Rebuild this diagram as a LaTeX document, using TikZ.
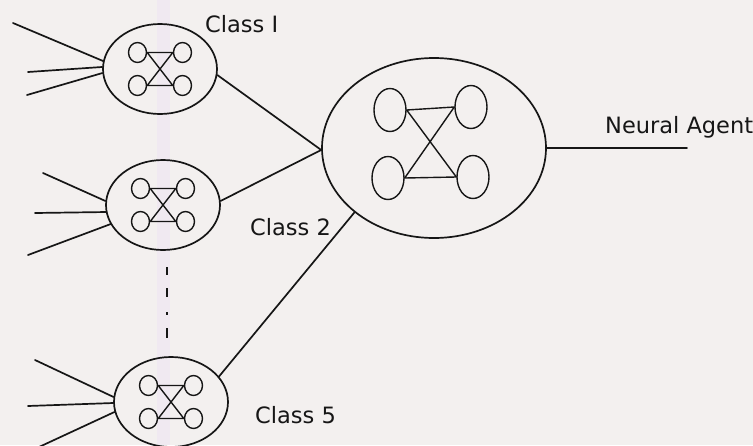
\documentclass[tikz,border=0pt]{standalone}
\usepackage{fontspec}
\setmainfont{DejaVu Sans}
\usetikzlibrary{shapes.geometric}
\definecolor{paper}{HTML}{F3F0EF}
\definecolor{band}{HTML}{F0E9F1}
\definecolor{ink}{HTML}{161616}
\begin{document}
\begin{tikzpicture}[x=1pt,y=-1pt,
  wire/.style={draw=ink,line width=1.7pt,line cap=round},
  cluster/.style={ellipse,draw=ink,line width=1.7pt,inner sep=0pt},
  neuron/.style={ellipse,draw=ink,line width=1.4pt,inner sep=0pt,
    minimum width=18pt,minimum height=20pt},
  bigneuron/.style={ellipse,draw=ink,line width=1.4pt,inner sep=0pt,
    minimum width=32pt,minimum height=43pt},
  tag/.style={anchor=base west,inner sep=0pt,text=ink,
    font=\fontsize{22.5}{27}\selectfont},
  % a small class network: four neurons in an enclosing ellipse
  pics/subnet/.style={code={
    \node[cluster,minimum width=114pt,minimum height=90pt] (-shell) at (0,0) {};
    \node[neuron] (-tl) at (-22.5,-16.5) {};
    \node[neuron] (-tr) at (22.5,-16.5) {};
    \node[neuron] (-bl) at (-22.5,16.5) {};
    \node[neuron] (-br) at (22.5,16.5) {};
    \draw[wire,line width=1.4pt] (-tl.east) -- (-tr.west)
      (-bl.east) -- (-br.west)
      (-tl.east) -- (-br.west)
      (-tr.west) -- (-bl.east);
  }}]

% paper and the faint scanner stripe
\fill[paper] (0,0) rectangle (753,445);
\fill[band] (157,0) rectangle (170,445);
\useasboundingbox (0,0) rectangle (753,445);
\clip (0,0) rectangle (753,445);

% class networks
\pic (s1) at (160,69) {subnet};
\pic (s2) at (163,205) {subnet};
\pic (s3) at (171,402) {subnet};

% the agent network
\node[cluster,minimum width=224pt,minimum height=180pt] (hub) at (434,148) {};
\node[bigneuron] (htl) at (390,110) {};
\node[bigneuron] (htr) at (471,107) {};
\node[bigneuron] (hbl) at (388,178) {};
\node[bigneuron] (hbr) at (473,177) {};
\draw[wire,line width=1.4pt] (htl.east) -- (htr.west)
  (hbl.east) -- (hbr.west)
  (htl.east) -- (hbr.west)
  (htr.west) -- (hbl.east);

% input ends
\coordinate (a1) at (13,23);
\coordinate (a2) at (28,72);
\coordinate (a3) at (27,95);
\coordinate (b1) at (43,173);
\coordinate (b2) at (35,213);
\coordinate (b3) at (28,255);
\coordinate (c1) at (35,360);
\coordinate (c2) at (28,406);
\coordinate (c3) at (39,447);
\coordinate (out) at (687,148);

% inputs into each class
\draw[wire] (a1) -- (s1-shell.172);
\draw[wire] (a2) -- (s1-shell.178);
\draw[wire] (a3) -- (s1-shell.184);
\draw[wire] (b1) -- (s2-shell.176);
\draw[wire] (b2) -- (s2-shell.187);
\draw[wire] (b3) -- (s2-shell.200);
\draw[wire] (c1) -- (s3-shell.175);
\draw[wire] (c2) -- (s3-shell.181);
\draw[wire] (c3) -- (s3-shell.190);

% classes into the agent, agent output
\draw[wire] (s1-shell.354) -- (hub.181);
\draw[wire] (s2-shell.4) -- (hub.181);
\draw[wire] (s3-shell.28) -- (hub.219.5);
\draw[wire] (hub.east) -- (out);

% ellipsis between class 2 and class 5
\coordinate (dtop) at (167,267);
\coordinate (dbot) at (167,338);
\draw[draw=ink,line width=2pt,line cap=butt,
  dash pattern=on 8pt off 13pt on 9pt off 15pt on 3pt off 13pt on 10pt]
  (dtop) -- (dbot);

% labels
\node[tag] (l1) at (205,32) {Class I};
\node[tag] (l2) at (250,235) {Class 2};
\node[tag] (l5) at (255,423) {Class 5};
\node[tag] (lna) at (605,133) {Neural Agent};
\end{tikzpicture}
\end{document}
